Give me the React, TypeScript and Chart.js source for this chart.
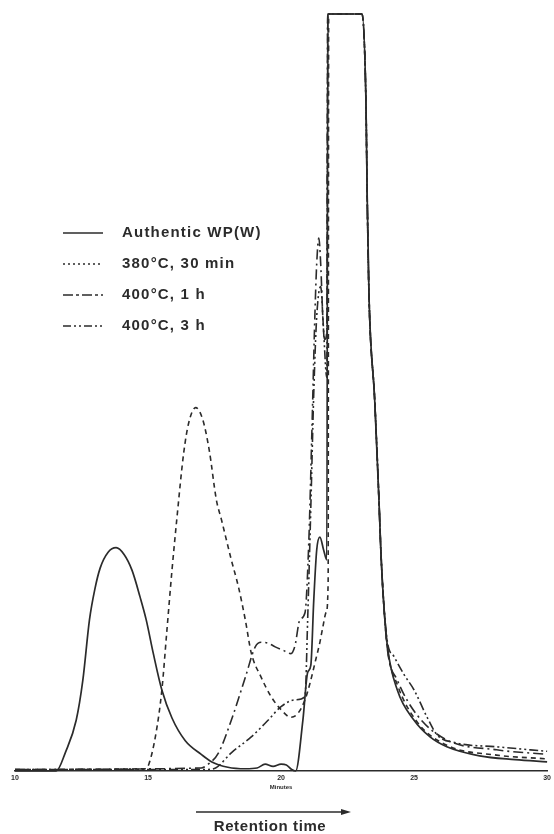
import { useEffect, useRef } from "react";
import { Chart, registerables } from "chart.js";

Chart.register(...registerables);

const INK = "#2b2b2b";
const FONT = "'Liberation Sans', Arial, Helvetica, sans-serif";

// x axis (minutes)
const retentionTicks = [10, 15, 20, 25, 30];

// Authentic WP(W)
const authenticTime = [10, 11.55, 11.9, 12.3, 12.55, 12.8, 13.0, 13.2, 13.5, 13.8, 14.1, 14.4, 14.7, 14.93, 15.2, 15.52, 15.9, 16.4, 17.0, 17.4, 18.0, 18.66, 19.1, 19.4, 19.7, 20.0, 20.2, 20.4, 20.55, 20.82, 21.0, 21.12, 21.23, 21.34, 21.46, 21.6, 21.72, 21.76, 23.04, 23.19, 23.24, 23.31, 23.52, 23.68, 23.75, 23.85, 24.0, 24.37, 25.0, 25.6, 26.23, 27.46, 28.8, 30];
const authenticSignal = [0, 0, 2.5, 6.7, 12, 20, 24, 26.8, 28.9, 29.5, 28.6, 26.5, 23, 20, 15.5, 10.7, 7.0, 4.0, 2.2, 1.2, 0.5, 0.3, 0.4, 0.9, 0.6, 0.9, 0.8, 0.2, 0, 6.7, 13, 14, 22.6, 29.2, 30.9, 29.2, 27.9, 100, 100, 88.6, 75.4, 62.2, 49, 35.8, 29.2, 22.6, 16.4, 10.7, 6.7, 4.5, 3.2, 2.0, 1.5, 1.2];

// 380 °C, 30 min
const c380Time = [10, 14.9, 15.04, 15.3, 15.52, 15.71, 15.9, 16.08, 16.34, 16.53, 16.79, 17.05, 17.3, 17.57, 17.76, 18.13, 18.4, 18.66, 18.88, 19.25, 19.63, 20.0, 20.37, 20.63, 20.9, 21.08, 21.31, 21.46, 21.57, 21.7, 21.77, 21.79, 23.04, 23.19, 23.24, 23.31, 23.52, 23.68, 23.75, 23.85, 24.0, 24.37, 25.11, 26.23, 28.1, 30];
const c380Signal = [0.2, 0.3, 1.0, 5.0, 10.7, 18.6, 26.5, 33.2, 42, 46, 48, 46.5, 42.4, 35.8, 33.2, 27.9, 24.3, 19.9, 15.6, 12.4, 9.8, 8.1, 7.1, 7.6, 9.4, 11.5, 14.8, 17, 19, 21, 25, 100, 100, 88.6, 75.4, 62.2, 49, 35.8, 29.2, 22.6, 16.2, 11.4, 6.5, 3.4, 2.1, 1.6];

// 400 °C, 1 h
const c400h1Time = [10, 17.0, 17.3, 17.65, 18.13, 18.66, 19.03, 19.25, 19.5, 19.78, 20.1, 20.37, 20.52, 20.71, 20.9, 21.04, 21.16, 21.27, 21.34, 21.42, 21.49, 21.57, 21.64, 21.72, 21.75, 23.04, 23.19, 23.24, 23.31, 23.52, 23.68, 23.75, 23.85, 24.0, 24.37, 25.11, 26.23, 28.1, 30];
const c400h1Signal = [0.2, 0.4, 1.0, 2.4, 6.7, 12.4, 16.4, 17.0, 16.9, 16.4, 15.9, 15.5, 16.5, 20, 20.9, 30, 45, 60, 67, 70.4, 67, 60, 57, 58, 100, 100, 88.6, 75.4, 62.2, 49, 35.8, 29.2, 22.6, 16.0, 12.0, 7.4, 4.1, 2.8, 2.2];

// 400 °C, 3 h
const c400h3Time = [10, 17.2, 17.54, 18.13, 18.88, 19.51, 20.0, 20.52, 20.9, 21.0, 21.12, 21.23, 21.34, 21.49, 21.6, 21.72, 21.76, 23.04, 23.19, 23.24, 23.31, 23.52, 23.68, 23.75, 23.85, 24.0, 24.25, 24.63, 25.0, 25.49, 25.86, 26.6, 28.1, 30];
const c400h3Signal = [0.2, 0.2, 0.4, 2.4, 4.5, 6.7, 8.5, 9.4, 9.8, 20, 35, 50, 60, 64, 58, 52, 100, 100, 88.6, 75.4, 62.2, 49, 35.8, 29.2, 22.6, 17.0, 15.1, 12.7, 10.7, 7.1, 4.8, 3.7, 3.2, 2.6];

const seriesLabels = ["Authentic WP(W)", "380°C, 30 min", "400°C, 1 h", "400°C, 3 h"];

export default function App() {
  const ref = useRef<HTMLCanvasElement>(null);

  useEffect(() => {
    const mk = (t: number[], v: number[]) => t.map((x, i) => ({ x, y: v[i] }));
    const specs = [
      { t: authenticTime, v: authenticSignal, dash: [] as number[], legendDash: [] as number[], w: 1.7 },
      { t: c380Time, v: c380Signal, dash: [5, 4], legendDash: [2, 3], w: 1.6 },
      { t: c400h1Time, v: c400h1Signal, dash: [10, 4, 2, 4], legendDash: [10, 3, 3, 3], w: 1.6 },
      { t: c400h3Time, v: c400h3Signal, dash: [9, 3, 2, 3, 2, 3], legendDash: [8, 3, 2, 3, 2, 3], w: 1.6 },
    ];

    const overlay = {
      id: "overlay",
      afterDraw(chart: any) {
        const ctx = chart.ctx as CanvasRenderingContext2D;
        const xs = chart.scales.x;
        ctx.save();
        ctx.fillStyle = INK;
        ctx.strokeStyle = INK;
        // legend
        const rows = [233, 264, 295, 326];
        ctx.font = `bold 15px ${FONT}`;
        (ctx as any).letterSpacing = "1.2px";
        ctx.textBaseline = "middle";
        ctx.textAlign = "left";
        specs.forEach((s, i) => {
          ctx.beginPath();
          ctx.lineWidth = 1.5;
          ctx.setLineDash(s.legendDash);
          ctx.moveTo(63, rows[i]);
          ctx.lineTo(103, rows[i]);
          ctx.stroke();
          ctx.setLineDash([]);
          ctx.fillText(seriesLabels[i], 122, rows[i]);
        });
        (ctx as any).letterSpacing = "0px";
        // "Minutes" under the 20 tick
        ctx.font = `bold 6px ${FONT}`;
        ctx.textAlign = "center";
        ctx.fillText("Minutes", xs.getPixelForValue(20), 787);
        // arrow
        ctx.lineWidth = 1.3;
        ctx.beginPath();
        ctx.moveTo(196, 812);
        ctx.lineTo(343, 812);
        ctx.stroke();
        ctx.beginPath();
        ctx.moveTo(351, 812);
        ctx.lineTo(341, 809);
        ctx.lineTo(341, 815);
        ctx.closePath();
        ctx.fill();
        // caption
        ctx.font = `bold 15px ${FONT}`;
        (ctx as any).letterSpacing = "0.6px";
        ctx.fillText("Retention time", 270, 827);
        ctx.restore();
      },
    };

    const chart = new Chart(ref.current!, {
      type: "line",
      data: {
        datasets: specs.map((s, i) => ({
          label: seriesLabels[i],
          data: mk(s.t, s.v),
          borderColor: INK,
          borderWidth: s.w,
          borderDash: s.dash,
          pointRadius: 0,
          fill: false,
          cubicInterpolationMode: "monotone" as const,
          clip: false as any,
        })),
      },
      options: {
        animation: false,
        responsive: true,
        maintainAspectRatio: false,
        layout: { padding: { left: 15, right: 3, top: 14, bottom: 0 } },
        plugins: { legend: { display: false }, tooltip: { enabled: false } },
        scales: {
          x: {
            type: "linear",
            min: 10,
            max: 30,
            afterBuildTicks: (s: any) => {
              s.ticks = retentionTicks.map((v) => ({ value: v }));
            },
            ticks: {
              font: { size: 7, weight: "bold", family: FONT },
              color: INK,
              padding: 3,
              maxRotation: 0,
              autoSkip: false,
            },
            grid: { display: false, drawTicks: false },
            border: { display: true, color: INK, width: 1.5 },
            afterFit: (s: any) => {
              s.height = 63;
            },
          },
          y: { display: false, min: 0, max: 100 },
        },
      },
      plugins: [overlay],
    });
    return () => chart.destroy();
  }, []);

  return (
    <div style={{ position: "fixed", left: 0, top: 0, width: 554, height: 834, background: "#fff" }}>
      <canvas ref={ref} />
    </div>
  );
}
